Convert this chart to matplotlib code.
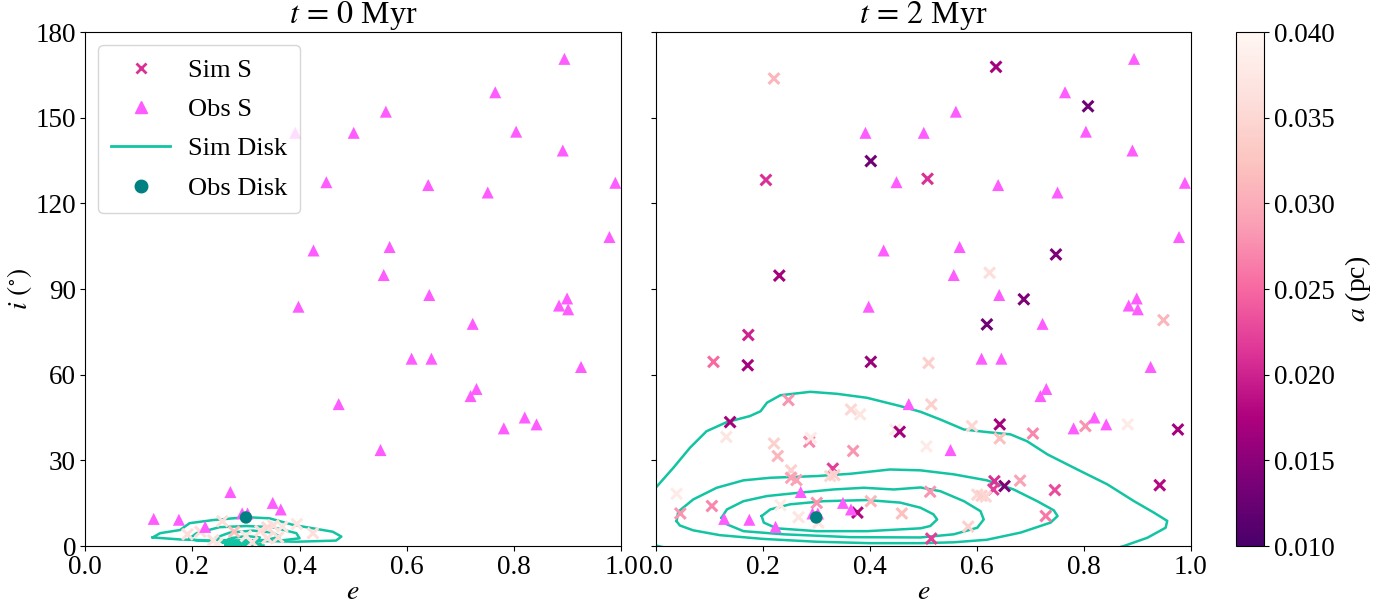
import numpy as np
import matplotlib
matplotlib.use("Agg")
import matplotlib.pyplot as plt
from matplotlib.lines import Line2D
from matplotlib.colors import Normalize

plt.rcParams["font.family"] = "serif"
plt.rcParams["font.serif"] = ["Liberation Serif", "DejaVu Serif"]
plt.rcParams["mathtext.fontset"] = "stix"

# --- observed S-stars (e, i in deg); identical in both panels ---
obs_e = [0.128, 0.175, 0.224, 0.271, 0.293, 0.303, 0.350, 0.365, 0.398, 0.473,
         0.551, 0.392, 0.501, 0.450, 0.426, 0.894, 0.765, 0.561, 0.804, 0.891,
         0.640, 0.751, 0.989, 0.568, 0.978, 0.557, 0.642, 0.899, 0.884, 0.901,
         0.723, 0.609, 0.646, 0.730, 0.719, 0.925, 0.820, 0.781, 0.842]
obs_i = [9.5, 9.2, 6.7, 18.9, 11.4, 11.4, 15.1, 12.8, 83.8, 49.7,
         33.6, 144.7, 144.7, 127.4, 103.5, 170.6, 158.9, 152.1, 145.1, 138.5,
         126.4, 123.8, 127.2, 104.7, 108.2, 94.9, 87.9, 86.7, 84.2, 82.9,
         77.8, 65.6, 65.6, 55.0, 52.5, 62.7, 45.0, 41.2, 42.6]

# observed disk centre
disk_e, disk_i = 0.30, 10.0

# --- simulated S-stars at t = 0 Myr (e, i, a [pc]) ---
sim0_e = [0.256, 0.191, 0.278, 0.239, 0.246, 0.312, 0.327, 0.340, 0.351, 0.368,
          0.340, 0.395, 0.425, 0.300, 0.215, 0.360]
sim0_i = [8.7, 4.1, 5.0, 2.0, 0.8, 1.3, 5.3, 6.5, 7.2, 6.8,
          2.7, 7.7, 4.5, 3.5, 5.0, 3.0]
sim0_a = [0.036, 0.036, 0.032, 0.036, 0.037, 0.036, 0.036, 0.035, 0.036, 0.037,
          0.036, 0.037, 0.036, 0.037, 0.036, 0.036]

# --- simulated S-stars at t = 2 Myr ---
sim2_e = [0.221, 0.402, 0.206, 0.231, 0.636, 0.808, 0.508, 0.748, 0.624,
          0.173, 0.108, 0.172, 0.402, 0.248, 0.139, 0.365, 0.382, 0.132, 0.448,
          0.456, 0.221, 0.287, 0.228, 0.369, 0.331, 0.253, 0.253, 0.263, 0.326,
          0.334, 0.039, 0.105, 0.046, 0.233, 0.301, 0.267, 0.304, 0.377, 0.402,
          0.460, 0.290,
          0.688, 0.619, 0.949, 0.510, 0.515, 0.591, 0.643, 0.643, 0.705, 0.506,
          0.803, 0.882, 0.976, 0.633, 0.631, 0.652, 0.681, 0.746, 0.942, 0.513,
          0.601, 0.609, 0.617, 0.729, 0.584, 0.515]
sim2_i = [163.7, 134.8, 128.2, 94.7, 167.8, 154.0, 128.6, 102.1, 95.7,
          73.9, 64.5, 63.3, 64.5, 51.1, 43.4, 47.8, 46.1, 38.2, 40.8,
          40.0, 35.9, 36.5, 31.5, 33.3, 27.1, 26.5, 23.9, 23.1, 24.5,
          24.8, 18.3, 14.0, 11.4, 14.3, 15.1, 10.1, 8.2, 11.7, 15.7,
          11.4, 37.9,
          86.4, 77.6, 79.1, 64.1, 49.6, 42.0, 42.6, 37.7, 39.4, 34.9,
          42.0, 42.6, 40.8, 22.7, 19.8, 21.0, 22.9, 19.6, 21.3, 19.0,
          18.0, 17.6, 17.3, 10.5, 6.8, 2.6]
sim2_a = [0.031, 0.013, 0.021, 0.017, 0.017, 0.013, 0.021, 0.014, 0.036,
          0.020, 0.025, 0.017, 0.016, 0.028, 0.017, 0.035, 0.037, 0.037, 0.038,
          0.017, 0.034, 0.027, 0.031, 0.028, 0.022, 0.034, 0.029, 0.029, 0.035,
          0.034, 0.038, 0.027, 0.028, 0.038, 0.028, 0.037, 0.037, 0.018, 0.031,
          0.032, 0.038,
          0.014, 0.013, 0.031, 0.034, 0.034, 0.035, 0.017, 0.032, 0.027, 0.038,
          0.028, 0.038, 0.017, 0.021, 0.022, 0.014, 0.029, 0.023, 0.018, 0.028,
          0.035, 0.034, 0.035, 0.026, 0.034, 0.022]

# --- simulated disk density contours (closed loops of (e, i)) ---
disk0_contours = [
    [(0.126, 3.0), (0.140, 4.5), (0.177, 5.6), (0.195, 8.0), (0.239, 9.1),
     (0.301, 10.1), (0.344, 9.7), (0.388, 7.4), (0.425, 6.2), (0.462, 5.0),
     (0.478, 3.3), (0.468, 1.9), (0.394, 1.5), (0.301, 1.9), (0.239, 1.9),
     (0.177, 2.3)],
    [(0.195, 2.7), (0.208, 4.5), (0.251, 6.6), (0.301, 7.0), (0.350, 6.6),
     (0.394, 4.5), (0.400, 2.7), (0.363, 1.9), (0.270, 1.5), (0.208, 1.9)],
    [(0.245, 3.0), (0.270, 4.7), (0.313, 5.4), (0.350, 4.7), (0.363, 3.3),
     (0.338, 2.1), (0.288, 1.9), (0.251, 2.1)],
    [(0.257, 1.2), (0.270, 2.7), (0.301, 3.5), (0.326, 3.0), (0.319, 1.2),
     (0.290, 0.9)],
    [(0.262, 0.4), (0.290, 1.0), (0.328, 0.8), (0.333, 0.3), (0.290, 0.2)],
]
disk2_contours = [
    [(-0.03, 16.0), (0.0, 20.4), (0.033, 27.4), (0.064, 34.4), (0.095, 40.2),
     (0.133, 43.4), (0.176, 45.5), (0.196, 47.2), (0.208, 50.2), (0.233, 52.8),
     (0.289, 54.0), (0.339, 53.3), (0.395, 51.9), (0.457, 49.0), (0.495, 47.0),
     (0.532, 44.3), (0.576, 40.8), (0.619, 39.9), (0.663, 39.1), (0.694, 36.7),
     (0.732, 32.1), (0.788, 26.8), (0.844, 21.6), (0.894, 15.7), (0.931, 11.7),
     (0.956, 8.8), (0.953, 6.4), (0.919, 2.9), (0.875, 0.0), (0.80, -4.0),
     (0.40, -5.0), (0.05, -2.0), (0.0, 0.2), (-0.03, 4.0), (-0.04, 12.0)],
    [(0.039, 8.7), (0.042, 12.0), (0.070, 16.3), (0.114, 20.4), (0.164, 23.0),
     (0.214, 23.9), (0.301, 24.5), (0.364, 25.3), (0.438, 26.8), (0.495, 26.5),
     (0.557, 25.1), (0.619, 23.0), (0.669, 19.8), (0.713, 15.7), (0.744, 12.5),
     (0.751, 10.5), (0.738, 8.2), (0.682, 4.7), (0.619, 2.2), (0.557, 1.3),
     (0.495, 1.0), (0.400, 1.0), (0.300, 1.5), (0.200, 2.5), (0.120, 3.8),
     (0.070, 5.5), (0.045, 7.2)],
    [(0.123, 9.9), (0.133, 12.8), (0.164, 15.7), (0.208, 17.5), (0.270, 18.7),
     (0.332, 19.8), (0.389, 20.4), (0.445, 19.8), (0.495, 20.5), (0.532, 19.2),
     (0.576, 15.7), (0.607, 12.2), (0.613, 9.3), (0.601, 6.4), (0.557, 4.1),
     (0.495, 3.0), (0.364, 3.1), (0.239, 4.1), (0.164, 5.2), (0.133, 7.6)],
    [(0.198, 10.5), (0.214, 12.8), (0.251, 14.6), (0.314, 15.7), (0.395, 16.1),
     (0.457, 15.2), (0.495, 13.4), (0.519, 11.1), (0.526, 9.3), (0.513, 7.0),
     (0.495, 6.2), (0.395, 5.2), (0.301, 5.2), (0.226, 6.2), (0.202, 8.2)],
]

OBS_S_COLOR = "#ff5cff"
DISK_LINE = "#12c4a2"
DISK_DOT = "#008080"
CMAP = plt.get_cmap("RdPu_r")
NORM = Normalize(vmin=0.010, vmax=0.040)

fig = plt.figure(figsize=(13.79, 6.03), dpi=100)
ax0 = fig.add_axes([0.0617, 0.0945, 0.3888, 0.8524])
ax1 = fig.add_axes([0.4755, 0.0945, 0.3880, 0.8524])
cax = fig.add_axes([0.8963, 0.0945, 0.0203, 0.8524])


def draw_panel(ax, sim_e, sim_i, sim_a, contours, title):
    for loop in contours:
        pts = np.array(loop + [loop[0]])
        ax.plot(pts[:, 0], pts[:, 1], color=DISK_LINE, lw=1.8, zorder=2)
    sc = ax.scatter(sim_e, sim_i, c=sim_a, cmap=CMAP, norm=NORM, marker="x",
                    s=60, linewidths=2.2, zorder=3)
    ax.scatter(obs_e, obs_i, color=OBS_S_COLOR, marker="^", s=75,
               edgecolors="none", zorder=4)
    ax.scatter([disk_e], [disk_i], color=DISK_DOT, marker="o", s=80,
               edgecolors="none", zorder=5)
    ax.set_xlim(0, 1)
    ax.set_ylim(0, 180)
    ax.set_xticks(np.arange(0, 1.01, 0.2))
    ax.set_yticks(np.arange(0, 181, 30))
    ax.tick_params(labelsize=19.5, direction="out", length=3.5, pad=3)
    ax.set_xlabel("$e$", fontsize=20, labelpad=0)
    ax.set_title(title, fontsize=23, pad=4)
    return sc


draw_panel(ax0, sim0_e, sim0_i, sim0_a, disk0_contours, r"$t\,=\,0$ Myr")
sc = draw_panel(ax1, sim2_e, sim2_i, sim2_a, disk2_contours, r"$t\,=\,2$ Myr")
ax0.set_ylabel(r"$i\ (^{\circ})$", fontsize=20, labelpad=1)
ax1.tick_params(labelleft=False)

handles = [
    Line2D([], [], ls="none", marker="x", color=CMAP(NORM(0.021)),
           markersize=7, markeredgewidth=2.0),
    Line2D([], [], ls="none", marker="^", color=OBS_S_COLOR, markersize=9),
    Line2D([], [], color=DISK_LINE, lw=2),
    Line2D([], [], ls="none", marker="o", color=DISK_DOT, markersize=9),
]
ax0.legend(handles, ["Sim S", "Obs S", "Sim Disk", "Obs Disk"],
           loc="upper left", fontsize=19, handlelength=2.2,
           borderaxespad=0.5, labelspacing=0.6, handletextpad=0.7,
           borderpad=0.5)

cb = fig.colorbar(sc, cax=cax)
cb.set_ticks(np.arange(0.010, 0.0401, 0.005))
cb.ax.set_yticklabels([f"{v:.3f}" for v in np.arange(0.010, 0.0401, 0.005)])
cb.ax.tick_params(labelsize=19.5, length=3.5)
cb.set_label("$a$ (pc)", fontsize=20, labelpad=6)

fig.savefig("out.png", dpi=100)
